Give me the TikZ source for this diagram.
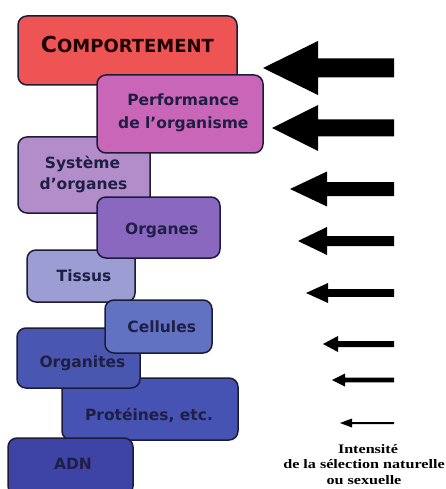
\documentclass[tikz,border=0pt]{standalone}
\usepackage{fontspec}
\newfontfamily\boxfont{DejaVu Sans}
\newfontfamily\capfont{Liberation Serif}
\definecolor{cComp}{HTML}{EE5454}
\definecolor{cPerf}{HTML}{CA66B8}
\definecolor{cSys}{HTML}{B28DC9}
\definecolor{cOrg}{HTML}{8A68BF}
\definecolor{cTis}{HTML}{9C9DD3}
\definecolor{cCel}{HTML}{6272C2}
\definecolor{cOrgt}{HTML}{4A57B1}
\definecolor{cProt}{HTML}{4653B2}
\definecolor{cAdn}{HTML}{3D44A5}
\definecolor{bordercol}{HTML}{1C1C38}
\definecolor{txtcol}{HTML}{1F1F45}
\tikzset{
  levelbox/.style={draw=bordercol, line width=1.5pt, rounded corners=9pt, inner sep=0pt},
  levellabel/.style={anchor=base, inner sep=0pt, text=txtcol, font=\boxfont\bfseries\fontsize{15.5}{18}\selectfont},
  caption/.style={anchor=base, inner sep=0pt, text=black, font=\capfont\bfseries\fontsize{13}{15}\selectfont},
  arrowfill/.style={fill=black},
}
% box: name, cx, cy, w, h, colour
\newcommand\levelat[6]{%
  \node[levelbox, fill=#6, minimum width=#4pt, minimum height=#5pt] (#1) at (#2,#3) {};}
% arrow: name, tip x, y, head back x, head half height, shaft half thickness
\newcommand\fatarrow[6]{%
  \coordinate (#1tip) at (#2,#3);
  \coordinate (#1tail) at (394,#3);
  \fill[arrowfill] ([yshift=#6pt]#1tail) -- (#4,#3-#6) -- (#4,#3-#5) -- (#1tip)
     -- (#4,#3+#5) -- (#4,#3+#6) -- ([yshift=-#6pt]#1tail) -- cycle;}
\begin{document}
\begin{tikzpicture}[x=1pt,y=-1pt]
\useasboundingbox (0,0) rectangle (446,489);
\fill[white] (0,0) rectangle (446,489);
\begin{scope}
\clip (0,0) rectangle (446,489);
% COMPORTEMENT
\levelat{comp}{127.5}{50.5}{219}{69}{cComp}
\node[levellabel, text=black!88!red] (compT) at (127.5,52.5)
  {{\fontsize{22}{22}\selectfont C}{\fontsize{18}{18}\selectfont OMPORTEMENT}};
% Systeme d'organes
\levelat{sys}{84}{175}{132}{76}{cSys}
\node[levellabel] (sysT1) at (82.5,168.5) {Système};
\node[levellabel] (sysT2) at (83.5,189.5) {d’organes};
% Performance
\levelat{perf}{180}{114}{166}{78}{cPerf}
\node[levellabel] (perfT1) at (183.3,105.7) {Performance};
\node[levellabel] (perfT2) at (183.3,128.3) {de l’organisme};
% Tissus
\levelat{tis}{81}{276}{108}{52}{cTis}
\node[levellabel] (tisT) at (84,281.5) {Tissus};
% Organes
\levelat{org}{158.5}{227.5}{123}{61}{cOrg}
\node[levellabel] (orgT) at (161.7,234) {Organes};
% Proteines
\levelat{prot}{150}{409}{176}{62}{cProt}
\node[levellabel] (protT) at (149,420) {Protéines, etc.};
% Organites
\levelat{orgt}{78.5}{358}{123}{60}{cOrgt}
\node[levellabel] (orgtT) at (82.5,367) {Organites};
% Cellules
\levelat{cel}{158.5}{326.5}{107}{53}{cCel}
\node[levellabel] (celT) at (161.7,332.5) {Cellules};
% ADN
\levelat{adn}{70.5}{466.5}{125}{57}{cAdn}
\node[levellabel] (adnT) at (73,469.3) {ADN};
% arrows of selection intensity
\fatarrow{a1}{263}{68}{318}{27}{9.5}
\fatarrow{a2}{272}{128}{318}{23}{8.5}
\fatarrow{a3}{290}{189}{327}{17.5}{7}
\fatarrow{a4}{298}{241}{327}{14}{5}
\fatarrow{a5}{306}{293}{328}{10}{3.8}
\fatarrow{a6}{323}{344}{338}{8}{3}
\fatarrow{a7}{332}{380}{345}{6.5}{2.3}
\fatarrow{a8}{340}{423}{352}{4.5}{1}
% caption
\node[caption] (cap1) at (368,453) {\scalebox{1.24}[1]{Intensité}};
\node[caption] (cap2) at (364,468.5) {\scalebox{1.24}[1]{de la sélection naturelle}};
\node[caption] (cap3) at (364,484) {\scalebox{1.24}[1]{ou sexuelle}};
\end{scope}
\end{tikzpicture}
\end{document}
